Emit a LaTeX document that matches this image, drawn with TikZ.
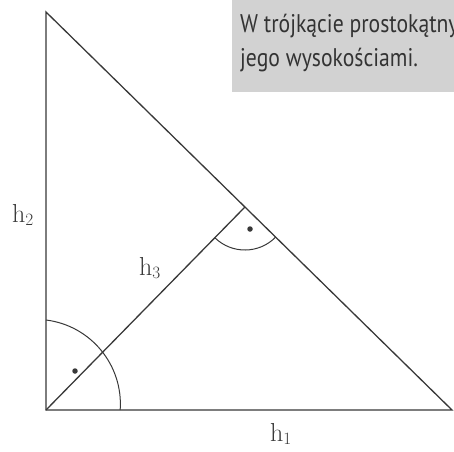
\documentclass[tikz,border=0pt]{standalone}
\usepackage{fontspec}
\newfontfamily\notefont[FakeStretch=0.85]{PT Sans}
\usetikzlibrary{calc}
\definecolor{notegray}{HTML}{D2D2D2}
\definecolor{inkgray}{HTML}{383838}

\begin{document}
\begin{tikzpicture}[x=1pt, y=1pt,
  side/.style={line width=1.3pt, draw=inkgray},
  anglearc/.style={line width=1pt, draw=inkgray},
  lbl/.style={font=\fontsize{26}{30}\selectfont, text=inkgray, inner sep=0pt},
  note/.style={font=\notefont\fontsize{25.5}{30}\selectfont, text=black!80, anchor=base west, inner sep=0pt},
  rdot/.style={circle, fill=inkgray, inner sep=0pt, minimum size=5.5pt}
]
\clip (0,0) rectangle (454,451);
% note box
\fill[notegray] (232,359) rectangle (454,451);
\node[note] (line1) at (240,418) {W trójkącie prostokątny};
\node[note] (line2) at (240,385) {jego wysokościami.};
% triangle
\coordinate (A) at (46,439);
\coordinate (C) at (46,41);
\coordinate (B) at (452,41);
\coordinate (H) at ($(A)!(C)!(B)$);
\draw[side] (A) -- (C) -- (B) -- cycle;
\draw[side] (C) -- (H);
% right angles
\draw[anglearc] ($(C)+(0,90)$) arc[start angle=83, end angle=-4, radius=84.7];
\draw[anglearc] ($(H)!43pt!(C)$) arc[start angle=225.6, end angle=315.6, radius=43];
\node[rdot] (d1) at (75,80) {};
\node[rdot] (d2) at (250,222) {};
% labels
\node[lbl] (h2) at (23,236) {h$_2$};
\node[lbl] (h3) at (150,183) {h$_3$};
\node[lbl] (h1) at (281,17) {h$_1$};
\end{tikzpicture}
\end{document}
